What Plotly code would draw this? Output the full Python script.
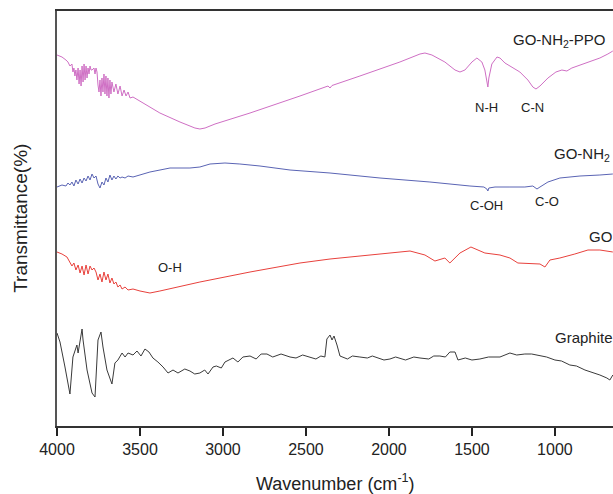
import plotly.graph_objects as go

# ---------------- data (wavenumber cm^-1, transmittance a.u., offset-stacked) ----------------
ppo_wn = [4000, 3970, 3946, 3934, 3922, 3910, 3904, 3898, 3892, 3886, 3880, 3873, 3867, 3861, 3855,
          3849, 3843, 3837, 3831, 3825, 3819, 3813, 3807, 3801, 3795, 3789, 3777, 3771, 3765, 3759,
          3753, 3747, 3741, 3735, 3729, 3723, 3717, 3711, 3705, 3699, 3693, 3687, 3681, 3675, 3669,
          3657, 3645, 3633, 3620, 3608, 3596, 3584, 3572, 3560, 3542, 3500, 3380, 3259, 3169, 3139,
          3108, 3048, 2837, 2536, 2367, 2355, 2343, 2175, 1934, 1813, 1783, 1741, 1663, 1602, 1572,
          1542, 1500, 1470, 1440, 1422, 1410, 1404, 1398, 1380, 1349, 1331, 1301, 1259, 1211, 1163,
          1133, 1114, 1090, 1042, 994, 958, 928, 898, 849, 789, 729, 681, 651]
ppo_t = [371, 369, 366, 364, 360, 362, 354, 358, 350, 356, 346, 358, 342, 356, 340,
         360, 344, 362, 346, 360, 348, 358, 352, 360, 356, 356, 358, 352, 358, 354,
         341, 334, 346, 330, 348, 334, 352, 332, 350, 330, 348, 328, 346, 332, 344,
         334, 342, 332, 340, 330, 336, 330, 334, 328, 329, 325, 313, 304, 298, 297,
         298, 302, 313, 330, 340, 338, 340.5, 350, 364, 372, 373, 371, 364, 356, 354,
         356, 364, 368, 364, 356, 346, 339, 348, 362, 369, 368, 363, 359, 354, 346,
         339, 337, 340, 348, 354, 356, 355, 358, 361, 364, 368, 372, 375]

nh2_wn = [4000, 3970, 3946, 3934, 3922, 3910, 3898, 3886, 3873, 3861, 3849, 3837, 3825, 3813, 3801,
          3789, 3777, 3765, 3753, 3741, 3729, 3717, 3705, 3693, 3681, 3669, 3657, 3645, 3633, 3620,
          3608, 3590, 3572, 3542, 3440, 3319, 3199, 3139, 3078, 2988, 2898, 2777, 2596, 2355, 2054,
          1753, 1512, 1428, 1410, 1404, 1398, 1361, 1271, 1181, 1133, 1108, 1090, 1042, 970, 849,
          729, 651]
nh2_t = [239, 241, 240, 243, 241, 244, 240, 246, 242, 247, 243, 248, 245, 250, 246,
         252, 248, 250, 242, 238, 244, 241, 248, 244, 251, 246, 250, 247, 250, 248,
         249, 248, 250, 249, 254, 258, 258, 259, 262, 263, 262, 260, 256, 253, 248,
         244, 240, 239, 237, 235, 238, 239, 239, 239, 240, 237, 239, 244, 248, 250,
         251, 252]

go_wn = [4000, 3970, 3940, 3922, 3910, 3898, 3886, 3873, 3861, 3849, 3837, 3825, 3813, 3801, 3789,
         3777, 3765, 3753, 3741, 3729, 3717, 3705, 3693, 3681, 3669, 3657, 3645, 3633, 3620, 3608,
         3590, 3572, 3542, 3500, 3440, 3380, 3139, 2837, 2536, 2355, 1934, 1873, 1783, 1723, 1663,
         1633, 1572, 1506, 1422, 1331, 1271, 1223, 1090, 1060, 1030, 970, 880, 801, 729, 651]
go_t = [174, 172, 169, 164, 160, 163, 156, 161, 153, 160, 151, 161, 152, 160, 156,
        158, 154, 146, 152, 144, 154, 146, 152, 143, 148, 142, 144, 139, 141, 137,
        139, 136, 137, 135, 133, 135, 144, 154, 163, 167, 174, 175, 171, 165, 168,
        163, 173, 179, 173, 171, 168, 163, 162, 159, 166, 168, 172, 176, 176, 174]

gr_wn = [4000, 3982, 3952, 3922, 3904, 3880, 3873, 3849, 3843, 3819, 3789, 3771, 3753, 3735, 3723,
         3699, 3669, 3651, 3633, 3608, 3590, 3572, 3542, 3518, 3494, 3470, 3446, 3422, 3392, 3361,
         3331, 3301, 3271, 3230, 3199, 3170, 3139, 3110, 3090, 3060, 3040, 3010, 2988, 2960, 2940,
         2910, 2880, 2837, 2800, 2770, 2735, 2700, 2650, 2596, 2560, 2520, 2476, 2440, 2410, 2386,
         2374, 2355, 2343, 2331, 2313, 2295, 2250, 2220, 2175, 2130, 2100, 2030, 1994, 1960, 1900,
         1850, 1813, 1760, 1730, 1693, 1660, 1633, 1602, 1584, 1540, 1500, 1452, 1400, 1331, 1300,
         1271, 1230, 1181, 1140, 1090, 1050, 1000, 960, 910, 870, 819, 780, 729, 687, 669, 651]
gr_t = [93, 84, 59, 32, 69, 81, 73, 97, 86, 56, 33, 29, 86, 94, 79,
        56, 42, 63, 66, 73, 69, 73, 71, 75, 70, 77, 74, 68, 64, 59,
        53, 56, 53, 57, 55, 52, 53, 56, 52, 59, 60, 58, 64, 66, 68,
        64, 69, 70, 67, 72, 72, 69, 72, 69, 68, 71, 69, 67, 70, 69,
        87, 91, 86, 90, 81, 70, 67, 70, 69, 68, 70, 66, 67, 69, 66,
        69, 68, 67, 70, 70, 69, 74, 74, 66, 68, 66, 67, 69, 69, 71,
        73, 71, 72, 72, 70, 69, 66, 65, 61, 60, 56, 54, 51, 48, 46, 51]

# labels: (text, wavenumber, value, anchor)
curve_labels = [
    ("GO-NH<sub>2</sub>-PPO", 1262, 386, "left"),
    ("GO-NH<sub>2</sub>", 1018, 272, "left"),
    ("GO", 805, 190, "left"),
    ("Graphite", 1014, 89, "left"),
]
band_labels = [
    ("N-H", 1410, 319),
    ("C-N", 1135, 319),
    ("C-OH", 1415, 221),
    ("C-O", 1050, 225),
    ("O-H", 3318, 159),
]
x_ticks = [4000, 3500, 3000, 2500, 2000, 1500, 1000]

# ---------------- figure ----------------
fig = go.Figure()
series = [
    (gr_wn, gr_t, "#3a3a3a", "Graphite"),
    (go_wn, go_t, "#e8413c", "GO"),
    (nh2_wn, nh2_t, "#5a64b4", "GO-NH2"),
    (ppo_wn, ppo_t, "#cf6fc4", "GO-NH2-PPO"),
]
for wn, t, col, name in series:
    fig.add_trace(go.Scatter(x=wn, y=t, mode="lines", name=name,
                             line=dict(color=col, width=1), hoverinfo="skip"))

font_fam = "Liberation Sans, Arial, sans-serif"
ann = []
for txt, x, y, anc in curve_labels:
    ann.append(dict(x=x, y=y, xref="x", yref="y", text=txt, showarrow=False,
                    xanchor=anc, yanchor="middle", font=dict(size=15, color="#222", family=font_fam)))
for txt, x, y in band_labels:
    ann.append(dict(x=x, y=y, xref="x", yref="y", text=txt, showarrow=False,
                    xanchor="center", yanchor="middle", font=dict(size=13, color="#222", family=font_fam)))
ann.append(dict(x=0.5, y=-0.135, xref="paper", yref="paper",
                text="Wavenumber (cm<sup>-1</sup>)", showarrow=False, xanchor="center", yanchor="middle",
                font=dict(size=18, color="#222", family=font_fam)))
ann.append(dict(x=-0.066, y=0.5, xref="paper", yref="paper", text="Transmittance(%)",
                showarrow=False, textangle=-90, xanchor="center", yanchor="middle",
                font=dict(size=19, color="#222", family=font_fam)))

fig.update_layout(
    width=613, height=494,
    margin=dict(l=57, r=0, t=11, b=68),
    paper_bgcolor="white", plot_bgcolor="white",
    showlegend=False,
    annotations=ann,
    font=dict(family=font_fam, color="#222"),
)
fig.update_xaxes(range=[4000, 650], tickvals=x_ticks, ticktext=[str(v) for v in x_ticks],
                 ticks="outside", ticklen=8, tickwidth=1.5, tickcolor="#222",
                 showline=True, linecolor="#333", linewidth=2, mirror=True,
                 showgrid=False, zeroline=False, tickfont=dict(size=16, color="#222"))
fig.update_yaxes(range=[0, 415], showticklabels=False, ticks="", showline=True,
                 linecolor="#555", linewidth=2, mirror=False, showgrid=False, zeroline=False)

fig.write_html("out.html")
